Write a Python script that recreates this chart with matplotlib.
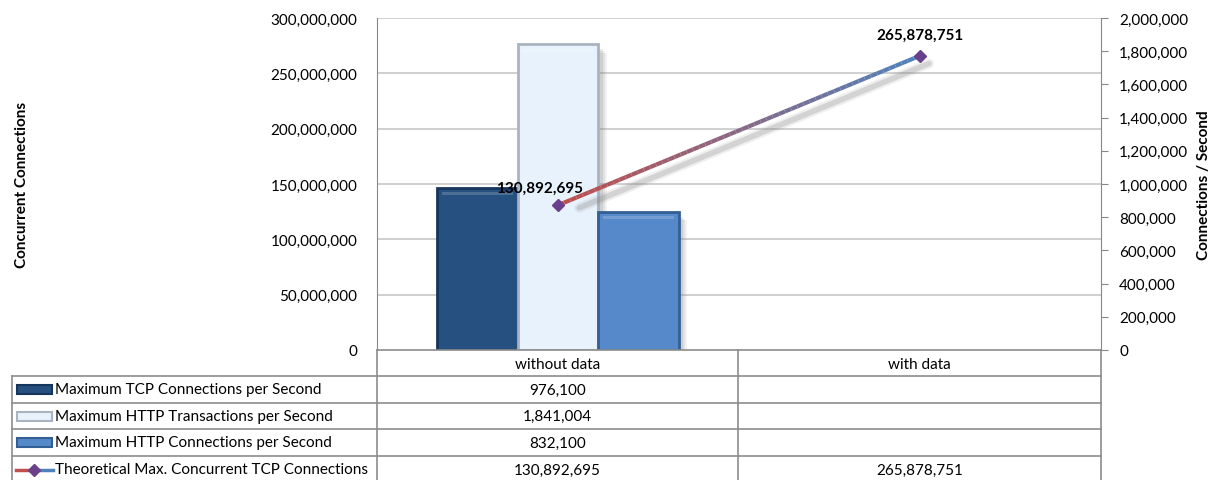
import numpy as np
import matplotlib.pyplot as plt
from matplotlib.collections import LineCollection
from matplotlib.patches import Rectangle
from matplotlib.ticker import FuncFormatter

plt.rcParams['font.family'] = ['Lato', 'DejaVu Sans']

categories = ["without data", "with data"]
series_names = ["Maximum TCP Connections per Second",
                "Maximum HTTP Transactions per Second",
                "Maximum HTTP Connections per Second",
                "Theoretical Max. Concurrent TCP Connections"]
tcp_cps = [976100, None]
http_tps = [1841004, None]
http_cps = [832100, None]
max_concurrent = [130892695, 265878751]

bar_series = [tcp_cps, http_tps, http_cps]
bar_face = ['#26507f', '#e8f2fc', '#5689c9']
bar_edge = ['#16355a', '#a9b4c0', '#335f94']

W, H = 1213, 481
fig = plt.figure(figsize=(W / 100, H / 100), dpi=100)
x0, x1, y0, y1 = 377, 1101, 351, 19
ax = fig.add_axes([x0 / W, 1 - y0 / H, (x1 - x0) / W, (y0 - y1) / H])
ax2 = ax.twinx()
ax.set_zorder(2)
ax.patch.set_visible(False)

fmt = FuncFormatter(lambda v, p: f"{int(v):,}")
xc = np.arange(len(categories))

# bars on the right axis
bw = 0.222
for i, (vals, fc, ec) in enumerate(zip(bar_series, bar_face, bar_edge)):
    for j, v in enumerate(vals):
        if v is None:
            continue
        bx = xc[j] + (i - 1) * bw
        # soft shadow
        for k, a in enumerate([0.18, 0.14, 0.10]):
            ax2.add_patch(Rectangle((bx - bw / 2 + 0.012 + k * 0.006, 0), bw, v - 30000 - k * 10000,
                                    facecolor='#808080', alpha=a, lw=0, zorder=1))
        ax2.bar(bx, v, bw, color=fc, edgecolor=ec, linewidth=2.0, zorder=2)
        # bevel highlight
        ax2.add_patch(Rectangle((bx - bw / 2 + 0.012, v - 45000), bw - 0.024, 18000,
                                facecolor='white', alpha=0.18, lw=0, zorder=3))
ax2.set_ylim(0, 2000000)
ax2.set_yticks(np.arange(0, 2000001, 200000))
ax2.yaxis.set_major_formatter(fmt)
ax2.tick_params(axis='y', labelsize=11, length=5, color='#888888', pad=8)
ax2.set_ylabel("Connections / Second", fontsize=11, fontweight='bold', labelpad=6)

# line on the left axis
ax.set_xlim(-0.5, 1.5)
ax.set_ylim(0, 300000000)
ax.set_yticks(np.arange(0, 300000001, 50000000))
ax.yaxis.set_major_formatter(fmt)
ax.tick_params(axis='y', labelsize=11, length=0, pad=14)
ax.set_xticks([])
ax.set_ylabel("Concurrent Connections", fontsize=11, fontweight='bold')
ax.yaxis.set_label_coords(-0.48, 0.5)
for yv in np.arange(50000000, 300000001, 50000000):
    ax2.axhline(yv * 2000000 / 300000000, color='#c8c8c8', lw=1.2, zorder=0)

# gradient line
n = 60
xs = np.linspace(xc[0], xc[1], n)
ys = np.linspace(max_concurrent[0], max_concurrent[1], n)
segs = np.stack([np.column_stack([xs[:-1], ys[:-1]]), np.column_stack([xs[1:], ys[1:]])], axis=1)
cols = [np.array([0.75, 0.31, 0.30]) * (1 - t) + np.array([0.31, 0.51, 0.74]) * t
        for t in np.linspace(0, 1, n - 1)]
for w, a in [(7, 0.12), (4, 0.25)]:
    ax.plot(xs[2:] + 0.025, ys[2:] - 7000000, color='#808080', lw=w, alpha=a,
            solid_capstyle='round', zorder=3)
ax.add_collection(LineCollection(segs, colors=cols, linewidths=3, zorder=4))
ax.plot(xc, max_concurrent, linestyle='none', marker='D', markersize=6,
        color='#6a3f8b', zorder=5)
ax.text(xc[0] - 0.05, max_concurrent[0] + 9000000, f"{max_concurrent[0]:,}",
        ha='center', va='bottom', fontsize=11, fontweight='bold', zorder=6)
ax.text(xc[1], max_concurrent[1] + 13000000, f"{max_concurrent[1]:,}",
        ha='center', va='bottom', fontsize=11, fontweight='bold', zorder=6)

for s in ['top', 'bottom']:
    ax.spines[s].set_visible(False)
    ax2.spines[s].set_visible(False)
ax.spines['right'].set_visible(False)
ax.spines['left'].set_color('#888888')
ax2.spines['left'].set_visible(False)
ax2.spines['right'].set_color('#888888')

# data table below the plot (pixel coords)
tab = fig.add_axes([0, 0, 1, 1])
tab.set_xlim(0, W)
tab.set_ylim(H, 0)
tab.axis('off')
tab.patch.set_visible(False)
lc = '#8c8c8c'
col_x = [12, 377, 738, 1101]
row_y = [351, 377, 404, 430, 457, 484]
tab.plot([x0, x1], [351, 351], color=lc, lw=1.2)
tab.plot([col_x[0], x1], [377, 377], color=lc, lw=1.2)
for yy in row_y[2:]:
    tab.plot([col_x[0], x1], [yy, yy], color=lc, lw=1.2)
for xx in col_x[1:]:
    tab.plot([xx, xx], [351, 484], color=lc, lw=1.2)
tab.plot([col_x[0], col_x[0]], [377, 484], color=lc, lw=1.2)
for j, c in enumerate(categories):
    tab.text((col_x[j + 1] + col_x[j + 2]) / 2, 365, c, ha='center', va='center', fontsize=11)
all_series = bar_series + [max_concurrent]
for i, (name, vals) in enumerate(zip(series_names, all_series)):
    yc = (row_y[i + 1] + row_y[i + 2]) / 2
    if i < 3:
        tab.add_patch(Rectangle((17, yc - 4.5), 35, 9, facecolor=bar_face[i],
                                edgecolor=bar_edge[i], lw=1.5))
    else:
        tab.plot([16, 34], [yc, yc], color='#c0504d', lw=2.5)
        tab.plot([34, 53], [yc, yc], color='#4f81bd', lw=2.5)
        tab.plot([34], [yc], marker='D', markersize=6, color='#6a3f8b')
    tab.text(55, yc, name, ha='left', va='center', fontsize=11)
    for j, v in enumerate(vals):
        if v is not None:
            tab.text((col_x[j + 1] + col_x[j + 2]) / 2, yc, f"{v:,}",
                     ha='center', va='center', fontsize=11)

fig.savefig("out.png", dpi=100)
